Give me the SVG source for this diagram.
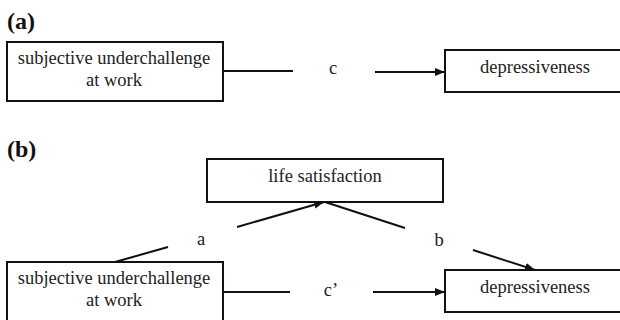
<svg xmlns="http://www.w3.org/2000/svg" width="620" height="320" viewBox="0 0 620 320">
<defs>
<marker id="ah" viewBox="0 0 10 8" refX="10" refY="4" markerWidth="10" markerHeight="8" markerUnits="userSpaceOnUse" orient="auto">
<path d="M0,0 L10,4 L0,8 Z" fill="#111"/>
</marker>
<style>
.box{fill:#fff;stroke:#111;stroke-width:2}
.t{font-family:"Liberation Serif","Times New Roman",serif;font-size:18.5px;fill:#222;text-anchor:middle}
.lbl{font-family:"Liberation Serif","Times New Roman",serif;font-size:24px;font-weight:bold;fill:#111}
.ln{stroke:#111;stroke-width:2;fill:none}
.arr{stroke:#111;stroke-width:2;fill:none;marker-end:url(#ah)}
</style>
</defs>
<rect width="620" height="320" fill="#fff"/>
<text class="lbl" x="7" y="29">(a)</text>
<text class="lbl" x="7" y="157">(b)</text>
<g id="a-subj">
<rect class="box" x="7" y="42" width="216" height="59"/>
<text class="t" x="114" y="64">subjective underchallenge</text>
<text class="t" x="114" y="86">at work</text>
</g>
<g id="a-dep">
<rect class="box" x="445" y="50" width="180" height="42"/>
<text class="t" x="535" y="73">depressiveness</text>
</g>
<g id="b-life">
<rect class="box" x="207" y="159" width="236" height="43"/>
<text class="t" x="325" y="182">life satisfaction</text>
</g>
<g id="b-subj">
<rect class="box" x="7" y="262" width="216" height="62"/>
<text class="t" x="114" y="284">subjective underchallenge</text>
<text class="t" x="114" y="306">at work</text>
</g>
<g id="b-dep">
<rect class="box" x="445" y="270" width="180" height="42"/>
<text class="t" x="535" y="293">depressiveness</text>
</g>
<g id="connectors">
<line class="ln" x1="223" y1="71" x2="293" y2="71"/>
<text class="t" x="333" y="74">c</text>
<line class="arr" x1="375" y1="72" x2="445" y2="72"/>
<line class="ln" x1="115" y1="262" x2="168" y2="247"/>
<text class="t" x="201" y="245">a</text>
<line class="arr" x1="237" y1="227" x2="324" y2="202"/>
<line class="ln" x1="325" y1="202" x2="405" y2="228"/>
<text class="t" x="439" y="246">b</text>
<line class="arr" x1="473" y1="250" x2="535" y2="270"/>
<line class="ln" x1="223" y1="292" x2="290" y2="292"/>
<text class="t" x="331" y="296">c’</text>
<line class="arr" x1="373" y1="292" x2="445" y2="292"/>
</g>
</svg>
